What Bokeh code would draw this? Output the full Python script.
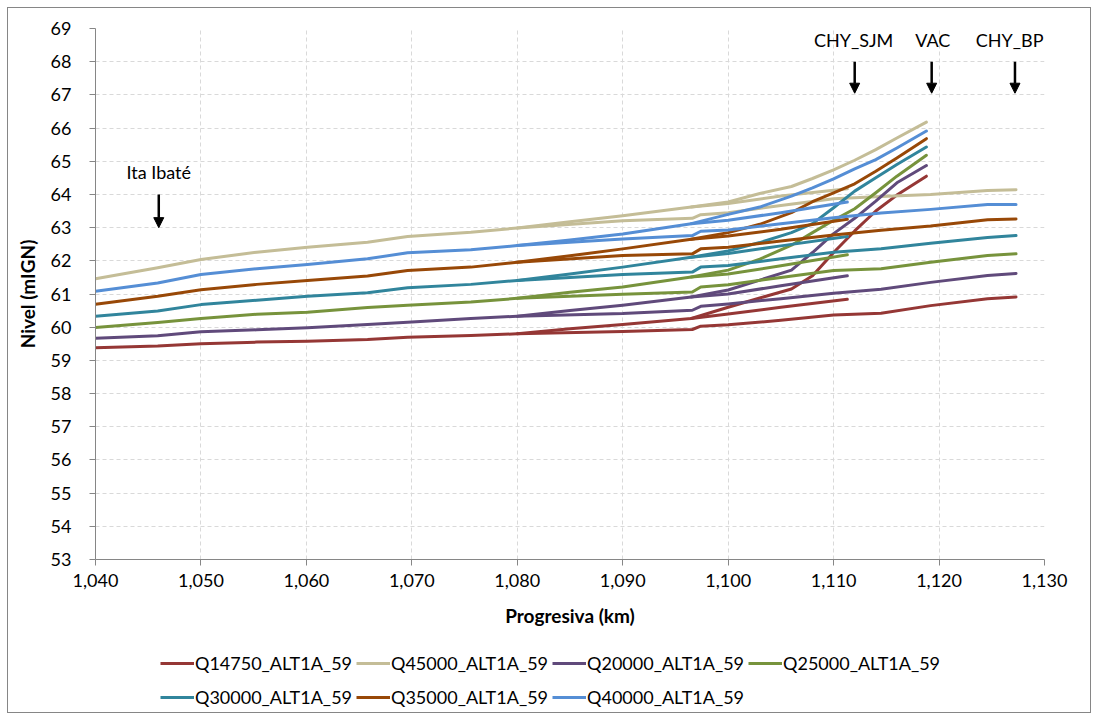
from bokeh.plotting import figure
from bokeh.layouts import column
from bokeh.models import (Range1d, NumeralTickFormatter, FixedTicker, Legend, LegendItem,
                          Label, Arrow, NormalHead)
from bokeh.embed import file_html
from bokeh.resources import INLINE

# ---------------- data ----------------
SERIES = ["Q14750_ALT1A_59", "Q45000_ALT1A_59", "Q20000_ALT1A_59", "Q25000_ALT1A_59",
          "Q30000_ALT1A_59", "Q35000_ALT1A_59", "Q40000_ALT1A_59"]
COLORS = ["#953735", "#C4BD97", "#604A7B", "#77933C", "#31859C", "#984807", "#558ED5"]

# main reach -> CHY_BP (km 1040 .. 1127)
KM_BP = [1040, 1045.9, 1050, 1055.3, 1060.1, 1065.8, 1069.6, 1075.6, 1080, 1090,
         1096.6, 1097.4, 1100, 1105, 1110, 1114.5, 1119.2, 1124.6, 1127.3]
BP_Q14750 = [59.38, 59.43, 59.50, 59.55, 59.58, 59.63, 59.70, 59.75, 59.80, 59.87,
             59.93, 60.03, 60.07, 60.21, 60.37, 60.42, 60.65, 60.86, 60.91]
BP_Q20000 = [59.67, 59.74, 59.86, 59.92, 59.98, 60.08, 60.15, 60.26, 60.33, 60.41,
             60.51, 60.63, 60.70, 60.86, 61.02, 61.14, 61.35, 61.56, 61.62]
BP_Q25000 = [59.99, 60.14, 60.26, 60.39, 60.45, 60.59, 60.66, 60.76, 60.87, 60.99,
             61.06, 61.21, 61.28, 61.50, 61.71, 61.76, 61.96, 62.16, 62.21]
BP_Q30000 = [60.33, 60.49, 60.68, 60.81, 60.93, 61.04, 61.19, 61.29, 61.41, 61.59,
             61.66, 61.81, 61.86, 62.06, 62.26, 62.36, 62.53, 62.70, 62.76]
BP_Q35000 = [60.69, 60.93, 61.13, 61.29, 61.41, 61.54, 61.71, 61.81, 61.96, 62.16,
             62.21, 62.36, 62.41, 62.60, 62.78, 62.92, 63.05, 63.24, 63.26]
BP_Q40000 = [61.08, 61.33, 61.59, 61.76, 61.89, 62.06, 62.24, 62.33, 62.46, 62.66,
             62.76, 62.89, 62.93, 63.12, 63.30, 63.44, 63.55, 63.70, 63.70]
BP_Q45000 = [61.46, 61.79, 62.04, 62.26, 62.41, 62.56, 62.73, 62.86, 62.99, 63.21,
             63.28, 63.39, 63.45, 63.67, 63.87, 63.94, 64.00, 64.12, 64.14]

# branch -> CHY_SJM (km 1080 .. 1111)
KM_SJM = [1080, 1085, 1090, 1096.5, 1100, 1105, 1111.3]
SJM_Q14750 = [59.80, 59.95, 60.08, 60.26, 60.40, 60.60, 60.84]
SJM_Q20000 = [60.33, 60.50, 60.66, 60.91, 61.00, 61.25, 61.55]
SJM_Q25000 = [60.87, 61.05, 61.21, 61.51, 61.60, 61.85, 62.18]
SJM_Q30000 = [61.41, 61.60, 61.81, 62.11, 62.22, 62.45, 62.73]
SJM_Q35000 = [61.96, 62.15, 62.36, 62.65, 62.75, 62.95, 63.25]
SJM_Q40000 = [62.46, 62.63, 62.81, 63.12, 63.22, 63.45, 63.77]
SJM_Q45000 = [62.99, 63.18, 63.36, 63.62, 63.73, 63.95, 64.17]

# branch -> VAC (km 1096.5 .. 1118.8)
KM_VAC = [1096.5, 1100, 1103, 1106, 1108, 1110, 1112, 1114, 1116, 1118.8]
VAC_Q14750 = [60.26, 60.60, 60.88, 61.15, 61.55, 62.25, 62.90, 63.50, 63.98, 64.55]
VAC_Q20000 = [60.91, 61.12, 61.42, 61.72, 62.25, 62.82, 63.28, 63.80, 64.35, 64.87]
VAC_Q25000 = [61.51, 61.72, 62.05, 62.47, 62.85, 63.22, 63.57, 64.05, 64.55, 65.18]
VAC_Q30000 = [62.11, 62.30, 62.55, 62.85, 63.12, 63.60, 64.10, 64.50, 64.90, 65.43]
VAC_Q35000 = [62.65, 62.85, 63.10, 63.45, 63.78, 64.05, 64.32, 64.70, 65.10, 65.68]
VAC_Q40000 = [63.12, 63.40, 63.62, 63.95, 64.20, 64.47, 64.77, 65.05, 65.40, 65.91]
VAC_Q45000 = [63.62, 63.77, 64.03, 64.24, 64.48, 64.74, 65.03, 65.35, 65.70, 66.18]

X_TICKS = list(range(1040, 1131, 10))
Y_TICKS = list(range(53, 70))

# annotations (location, km / level of arrow tail and head)
PLACES = ["Ita Ibaté", "CHY_SJM", "VAC", "CHY_BP"]
PLACE_KM = [1046.0, 1112.0, 1119.3, 1127.2]
PLACE_TEXT_KM = [1046.0, 1111.9, 1119.4, 1129.9]
PLACE_ALIGN = ["center", "center", "center", "right"]
PLACE_TEXT_Y = [64.68, 68.64, 68.64, 68.64]
ARROW_TOP = [64.0, 68.0, 68.0, 68.0]
ARROW_TIP = [63.0, 67.05, 67.05, 67.05]

BP = {"Q14750_ALT1A_59": BP_Q14750, "Q20000_ALT1A_59": BP_Q20000, "Q25000_ALT1A_59": BP_Q25000,
      "Q30000_ALT1A_59": BP_Q30000, "Q35000_ALT1A_59": BP_Q35000, "Q40000_ALT1A_59": BP_Q40000,
      "Q45000_ALT1A_59": BP_Q45000}
SJM = {"Q14750_ALT1A_59": SJM_Q14750, "Q20000_ALT1A_59": SJM_Q20000, "Q25000_ALT1A_59": SJM_Q25000,
       "Q30000_ALT1A_59": SJM_Q30000, "Q35000_ALT1A_59": SJM_Q35000, "Q40000_ALT1A_59": SJM_Q40000,
       "Q45000_ALT1A_59": SJM_Q45000}
VAC = {"Q14750_ALT1A_59": VAC_Q14750, "Q20000_ALT1A_59": VAC_Q20000, "Q25000_ALT1A_59": VAC_Q25000,
       "Q30000_ALT1A_59": VAC_Q30000, "Q35000_ALT1A_59": VAC_Q35000, "Q40000_ALT1A_59": VAC_Q40000,
       "Q45000_ALT1A_59": VAC_Q45000}

FONT = "Lato"
AXIS_GRAY = "#868686"

p = figure(width=1082, height=640, output_backend="svg", toolbar_location=None,
           x_range=Range1d(1040, 1130), y_range=Range1d(53, 69),
           min_border_left=87, min_border_right=46, min_border_top=20, min_border_bottom=89)
p.outline_line_color = None
p.background_fill_color = "white"
p.border_fill_color = "white"

for ax in (p.xaxis[0], p.yaxis[0]):
    ax.axis_line_color = AXIS_GRAY
    ax.major_tick_line_color = AXIS_GRAY
    ax.major_tick_out = 6
    ax.major_tick_in = 0
    ax.minor_tick_line_color = None
    ax.major_label_text_font = FONT
    ax.major_label_text_font_size = "18px"
    ax.major_label_text_color = "black"
    ax.axis_label_text_font = FONT
    ax.axis_label_text_font_size = "19px"
    ax.axis_label_text_font_style = "bold"
    ax.axis_label_text_color = "black"

p.xaxis.ticker = FixedTicker(ticks=X_TICKS)
p.yaxis.ticker = FixedTicker(ticks=Y_TICKS)
p.xaxis.formatter = NumeralTickFormatter(format="0,0")
p.xaxis.axis_label = "Progresiva (km)"
p.yaxis.axis_label = "Nivel (mIGN)"
p.xaxis.major_label_standoff = 8
p.xaxis.axis_label_standoff = 14
p.yaxis.major_label_standoff = 18
p.yaxis.axis_label_standoff = 9

for g in (p.xgrid[0], p.ygrid[0]):
    g.grid_line_color = "#D9D9D9"
    g.grid_line_dash = "4 3"
    g.grid_line_width = 1

for name, color in zip(SERIES, COLORS):
    p.line(KM_BP, BP[name], line_color=color, line_width=3, line_cap="round", line_join="round")
    p.line(KM_SJM, SJM[name], line_color=color, line_width=3, line_cap="round", line_join="round")
    p.line(KM_VAC, VAC[name], line_color=color, line_width=3, line_cap="round", line_join="round")

for name, km, tkm, al, ty, top, tip in zip(PLACES, PLACE_KM, PLACE_TEXT_KM, PLACE_ALIGN,
                                          PLACE_TEXT_Y, ARROW_TOP, ARROW_TIP):
    p.add_layout(Label(x=tkm, y=ty, text=name, text_align=al, text_baseline="middle",
                       text_font=FONT, text_font_size="18px", text_color="black"))
    p.add_layout(Arrow(x_start=km, y_start=top, x_end=km, y_end=tip, line_width=2.5,
                       line_color="black",
                       end=NormalHead(size=10, fill_color="black", line_color="black")))

# legend strip below the chart (its lines lie outside its own ranges, only the legend shows)
p2 = figure(width=1082, height=64, output_backend="svg", toolbar_location=None,
            x_range=Range1d(0, 1), y_range=Range1d(0, 1), x_axis_type=None, y_axis_type=None,
            min_border_left=0, min_border_right=0, min_border_top=0, min_border_bottom=0)
p2.outline_line_color = None
p2.xgrid.visible = False
p2.ygrid.visible = False
items = []
for name, color in zip(SERIES, COLORS):
    r = p2.line([5, 6], [5, 6], line_color=color, line_width=3)
    items.append(LegendItem(label=name, renderers=[r]))
legend = Legend(items=items, orientation="horizontal", ncols=4, location=(65, 0),
                glyph_width=34, glyph_height=30, label_standoff=1, spacing=4, padding=0,
                margin=0, border_line_color=None, background_fill_alpha=0,
                label_text_font=FONT, label_text_font_size="18px", label_text_color="black",
                label_height=30)
p2.add_layout(legend, "center")

layout = column(p, p2, spacing=0, margin=(7, 7, 2, 7), styles={"border": "1px solid #868686"})

open("out.html", "w").write(file_html(layout, INLINE))
